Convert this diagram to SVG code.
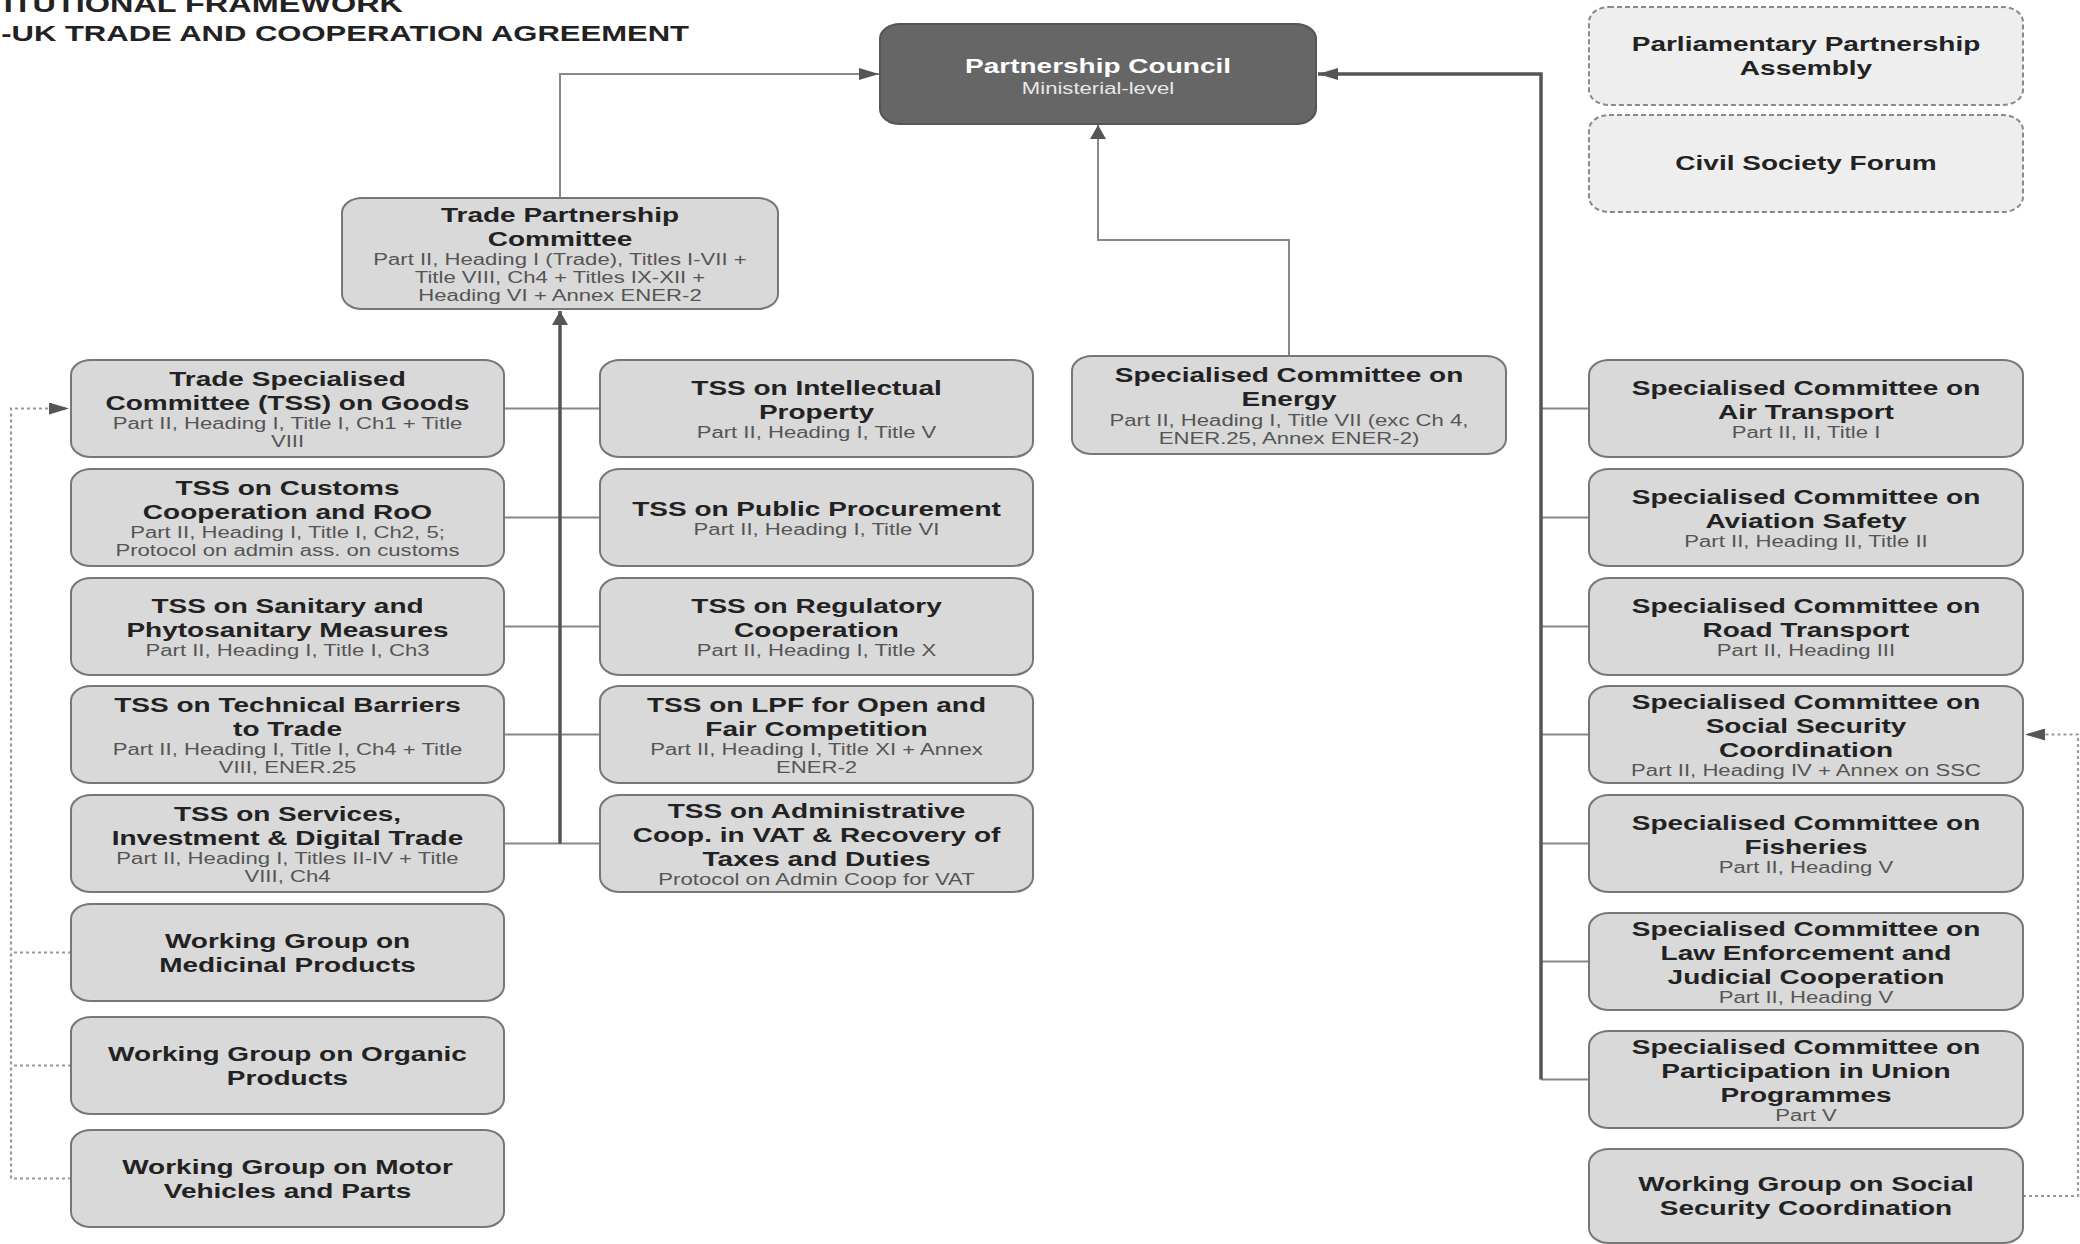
<svg xmlns="http://www.w3.org/2000/svg" width="2080" height="1244" viewBox="0 0 2080 1244">
<defs>
<style>
.box{fill:#d9d9d9;stroke:#777;stroke-width:2}
.pc{fill:#666;stroke:#555;stroke-width:2}
.dash{fill:#eee;stroke:#8a8a8a;stroke-width:2;stroke-dasharray:5 3}
text{font-family:"Liberation Sans",Arial,Helvetica,sans-serif}
.t{font-weight:bold;font-size:20px;fill:#222;text-anchor:middle}
.s{font-weight:normal;font-size:15.8px;fill:#555}
.pct{font-weight:bold;font-size:20px;fill:#fff;text-anchor:middle}
.pcs{font-weight:normal;font-size:15.8px;fill:#e8e8e8}
.ttl{font-weight:bold;font-size:22px;fill:#222;text-anchor:end}
.ln{fill:none;stroke:#888;stroke-width:2}
.trunk{fill:none;stroke:#555;stroke-width:3.5}
.dot{fill:none;stroke:#999;stroke-width:2.2;stroke-dasharray:3 3}
</style>
<marker id="ah" markerUnits="userSpaceOnUse" markerWidth="20" markerHeight="12" refX="20" refY="6" orient="auto"><path d="M0,0 L20,6 L0,12 Z" fill="#555"/></marker>
<marker id="av" markerUnits="userSpaceOnUse" markerWidth="14" markerHeight="16" refX="14" refY="8" orient="auto"><path d="M0,0 L14,8 L0,16 Z" fill="#555"/></marker>
</defs>
<rect width="2080" height="1244" fill="#fff"/>

<g id="title">
<text class="ttl" style="font-size:23px" transform="translate(403 0) scale(1.41 1)"><tspan x="0" y="12">INSTITUTIONAL FRAMEWORK</tspan></text>
<text class="ttl" transform="translate(689 0) scale(1.41 1)"><tspan x="0" y="41">EU-UK TRADE AND COOPERATION AGREEMENT</tspan></text>
</g>

<g id="connectors">
<path class="ln" d="M560,198 V74 H879" marker-end="url(#ah)"/>
<path class="ln" d="M1289,356 V240 H1098 V125" marker-end="url(#av)"/>
<path class="ln" d="M504,408.5 H600 M504,517.5 H600 M504,626.5 H600 M504,734.5 H600 M504,843.5 H600"/>
<path class="trunk" d="M560,843.5 V311" marker-end="url(#av)"/>
<path class="ln" d="M1541,408.5 H1589 M1541,517.5 H1589 M1541,626.5 H1589 M1541,734.5 H1589 M1541,843.5 H1589 M1541,961.5 H1589 M1541,1079.5 H1589"/>
<path class="trunk" d="M1541,1079.5 V74 H1318" marker-end="url(#ah)"/>
<path class="dot" d="M71,952.5 H11 M71,1065.5 H11"/>
<path class="dot" d="M71,1178.5 H11 V408.5 H69" marker-end="url(#ah)"/>
<path class="dot" d="M2023,1196 H2078 V734.5 H2025" marker-end="url(#ah)"/>
</g>

<g id="n-partnership-council">
<rect class="pc" x="880" y="24" width="436" height="100" rx="20" ry="15"/>
<text class="pct" transform="translate(1098 0) scale(1.4 1)"><tspan x="0" y="73">Partnership Council</tspan><tspan class="pcs" x="0" y="94">Ministerial-level</tspan></text>
</g>

<g id="n-ppa">
<rect class="dash" x="1589" y="7" width="434" height="98" rx="20" ry="15"/>
<text class="t" transform="translate(1806 0) scale(1.4 1)"><tspan x="0" y="51.5">Parliamentary Partnership</tspan><tspan x="0" y="75.5">Assembly</tspan></text>
</g>

<g id="n-csf">
<rect class="dash" x="1589" y="115" width="434" height="97" rx="20" ry="15"/>
<text class="t" transform="translate(1806 0) scale(1.4 1)"><tspan x="0" y="170.5">Civil Society Forum</tspan></text>
</g>

<g id="n-tpc">
<rect class="box" x="342" y="198" width="436" height="111" rx="20" ry="15"/>
<text class="t" transform="translate(560 0) scale(1.4 1)"><tspan x="0" y="222">Trade Partnership</tspan><tspan x="0" y="246">Committee</tspan><tspan class="s" x="0" y="265.3">Part II, Heading I (Trade), Titles I-VII +</tspan><tspan class="s" x="0" y="283.3">Title VIII, Ch4 + Titles IX-XII +</tspan><tspan class="s" x="0" y="301.3">Heading VI + Annex ENER-2</tspan></text>
</g>

<g id="n-energy">
<rect class="box" x="1072" y="356" width="434" height="98" rx="20" ry="15"/>
<text class="t" transform="translate(1289 0) scale(1.4 1)"><tspan x="0" y="382.5">Specialised Committee on</tspan><tspan x="0" y="406.5">Energy</tspan><tspan class="s" x="0" y="425.8">Part II, Heading I, Title VII (exc Ch 4,</tspan><tspan class="s" x="0" y="443.8">ENER.25, Annex ENER-2)</tspan></text>
</g>

<g id="n-tss-goods">
<rect class="box" x="71" y="360" width="433" height="97" rx="20" ry="15"/>
<text class="t" transform="translate(287.5 0) scale(1.4 1)"><tspan x="0" y="386">Trade Specialised</tspan><tspan x="0" y="410">Committee (TSS) on Goods</tspan><tspan class="s" x="0" y="429.3">Part II, Heading I, Title I, Ch1 + Title</tspan><tspan class="s" x="0" y="447.3">VIII</tspan></text>
</g>
<g id="n-tss-customs">
<rect class="box" x="71" y="469" width="433" height="97" rx="20" ry="15"/>
<text class="t" transform="translate(287.5 0) scale(1.4 1)"><tspan x="0" y="495">TSS on Customs</tspan><tspan x="0" y="519">Cooperation and RoO</tspan><tspan class="s" x="0" y="538.3">Part II, Heading I, Title I, Ch2, 5;</tspan><tspan class="s" x="0" y="556.3">Protocol on admin ass. on customs</tspan></text>
</g>
<g id="n-tss-sps">
<rect class="box" x="71" y="578" width="433" height="97" rx="20" ry="15"/>
<text class="t" transform="translate(287.5 0) scale(1.4 1)"><tspan x="0" y="613">TSS on Sanitary and</tspan><tspan x="0" y="637">Phytosanitary Measures</tspan><tspan class="s" x="0" y="656.3">Part II, Heading I, Title I, Ch3</tspan></text>
</g>
<g id="n-tss-tbt">
<rect class="box" x="71" y="686" width="433" height="97" rx="20" ry="15"/>
<text class="t" transform="translate(287.5 0) scale(1.4 1)"><tspan x="0" y="712">TSS on Technical Barriers</tspan><tspan x="0" y="736">to Trade</tspan><tspan class="s" x="0" y="755.3">Part II, Heading I, Title I, Ch4 + Title</tspan><tspan class="s" x="0" y="773.3">VIII, ENER.25</tspan></text>
</g>
<g id="n-tss-services">
<rect class="box" x="71" y="795" width="433" height="97" rx="20" ry="15"/>
<text class="t" transform="translate(287.5 0) scale(1.4 1)"><tspan x="0" y="821">TSS on Services,</tspan><tspan x="0" y="845">Investment &amp; Digital Trade</tspan><tspan class="s" x="0" y="864.3">Part II, Heading I, Titles II-IV + Title</tspan><tspan class="s" x="0" y="882.3">VIII, Ch4</tspan></text>
</g>
<g id="n-wg-medicinal">
<rect class="box" x="71" y="904" width="433" height="97" rx="20" ry="15"/>
<text class="t" transform="translate(287.5 0) scale(1.4 1)"><tspan x="0" y="948">Working Group on</tspan><tspan x="0" y="972">Medicinal Products</tspan></text>
</g>
<g id="n-wg-organic">
<rect class="box" x="71" y="1017" width="433" height="97" rx="20" ry="15"/>
<text class="t" transform="translate(287.5 0) scale(1.4 1)"><tspan x="0" y="1061">Working Group on Organic</tspan><tspan x="0" y="1085">Products</tspan></text>
</g>
<g id="n-wg-motor">
<rect class="box" x="71" y="1130" width="433" height="97" rx="20" ry="15"/>
<text class="t" transform="translate(287.5 0) scale(1.4 1)"><tspan x="0" y="1174">Working Group on Motor</tspan><tspan x="0" y="1198">Vehicles and Parts</tspan></text>
</g>

<g id="n-tss-ip">
<rect class="box" x="600" y="360" width="433" height="97" rx="20" ry="15"/>
<text class="t" transform="translate(816.5 0) scale(1.4 1)"><tspan x="0" y="395">TSS on Intellectual</tspan><tspan x="0" y="419">Property</tspan><tspan class="s" x="0" y="438.3">Part II, Heading I, Title V</tspan></text>
</g>
<g id="n-tss-pp">
<rect class="box" x="600" y="469" width="433" height="97" rx="20" ry="15"/>
<text class="t" transform="translate(816.5 0) scale(1.4 1)"><tspan x="0" y="516">TSS on Public Procurement</tspan><tspan class="s" x="0" y="535.3">Part II, Heading I, Title VI</tspan></text>
</g>
<g id="n-tss-reg">
<rect class="box" x="600" y="578" width="433" height="97" rx="20" ry="15"/>
<text class="t" transform="translate(816.5 0) scale(1.4 1)"><tspan x="0" y="613">TSS on Regulatory</tspan><tspan x="0" y="637">Cooperation</tspan><tspan class="s" x="0" y="656.3">Part II, Heading I, Title X</tspan></text>
</g>
<g id="n-tss-lpf">
<rect class="box" x="600" y="686" width="433" height="97" rx="20" ry="15"/>
<text class="t" transform="translate(816.5 0) scale(1.4 1)"><tspan x="0" y="712">TSS on LPF for Open and</tspan><tspan x="0" y="736">Fair Competition</tspan><tspan class="s" x="0" y="755.3">Part II, Heading I, Title XI + Annex</tspan><tspan class="s" x="0" y="773.3">ENER-2</tspan></text>
</g>
<g id="n-tss-vat">
<rect class="box" x="600" y="795" width="433" height="97" rx="20" ry="15"/>
<text class="t" transform="translate(816.5 0) scale(1.4 1)"><tspan x="0" y="818">TSS on Administrative</tspan><tspan x="0" y="842">Coop. in VAT &amp; Recovery of</tspan><tspan x="0" y="866">Taxes and Duties</tspan><tspan class="s" x="0" y="885.3">Protocol on Admin Coop for VAT</tspan></text>
</g>

<g id="n-sc-air">
<rect class="box" x="1589" y="360" width="434" height="97" rx="20" ry="15"/>
<text class="t" transform="translate(1806 0) scale(1.4 1)"><tspan x="0" y="395">Specialised Committee on</tspan><tspan x="0" y="419">Air Transport</tspan><tspan class="s" x="0" y="438.3">Part II, II, Title I</tspan></text>
</g>
<g id="n-sc-aviation">
<rect class="box" x="1589" y="469" width="434" height="97" rx="20" ry="15"/>
<text class="t" transform="translate(1806 0) scale(1.4 1)"><tspan x="0" y="504">Specialised Committee on</tspan><tspan x="0" y="528">Aviation Safety</tspan><tspan class="s" x="0" y="547.3">Part II, Heading II, Title II</tspan></text>
</g>
<g id="n-sc-road">
<rect class="box" x="1589" y="578" width="434" height="97" rx="20" ry="15"/>
<text class="t" transform="translate(1806 0) scale(1.4 1)"><tspan x="0" y="613">Specialised Committee on</tspan><tspan x="0" y="637">Road Transport</tspan><tspan class="s" x="0" y="656.3">Part II, Heading III</tspan></text>
</g>
<g id="n-sc-social">
<rect class="box" x="1589" y="686" width="434" height="97" rx="20" ry="15"/>
<text class="t" transform="translate(1806 0) scale(1.4 1)"><tspan x="0" y="709">Specialised Committee on</tspan><tspan x="0" y="733">Social Security</tspan><tspan x="0" y="757">Coordination</tspan><tspan class="s" x="0" y="776.3">Part II, Heading IV + Annex on SSC</tspan></text>
</g>
<g id="n-sc-fisheries">
<rect class="box" x="1589" y="795" width="434" height="97" rx="20" ry="15"/>
<text class="t" transform="translate(1806 0) scale(1.4 1)"><tspan x="0" y="830">Specialised Committee on</tspan><tspan x="0" y="854">Fisheries</tspan><tspan class="s" x="0" y="873.3">Part II, Heading V</tspan></text>
</g>
<g id="n-sc-law">
<rect class="box" x="1589" y="913" width="434" height="97" rx="20" ry="15"/>
<text class="t" transform="translate(1806 0) scale(1.4 1)"><tspan x="0" y="936">Specialised Committee on</tspan><tspan x="0" y="960">Law Enforcement and</tspan><tspan x="0" y="984">Judicial Cooperation</tspan><tspan class="s" x="0" y="1003.3">Part II, Heading V</tspan></text>
</g>
<g id="n-sc-participation">
<rect class="box" x="1589" y="1031" width="434" height="97" rx="20" ry="15"/>
<text class="t" transform="translate(1806 0) scale(1.4 1)"><tspan x="0" y="1054">Specialised Committee on</tspan><tspan x="0" y="1078">Participation in Union</tspan><tspan x="0" y="1102">Programmes</tspan><tspan class="s" x="0" y="1121.3">Part V</tspan></text>
</g>
<g id="n-wg-social">
<rect class="box" x="1589" y="1149" width="434" height="94" rx="20" ry="15"/>
<text class="t" transform="translate(1806 0) scale(1.4 1)"><tspan x="0" y="1191.5">Working Group on Social</tspan><tspan x="0" y="1215.5">Security Coordination</tspan></text>
</g>
</svg>
